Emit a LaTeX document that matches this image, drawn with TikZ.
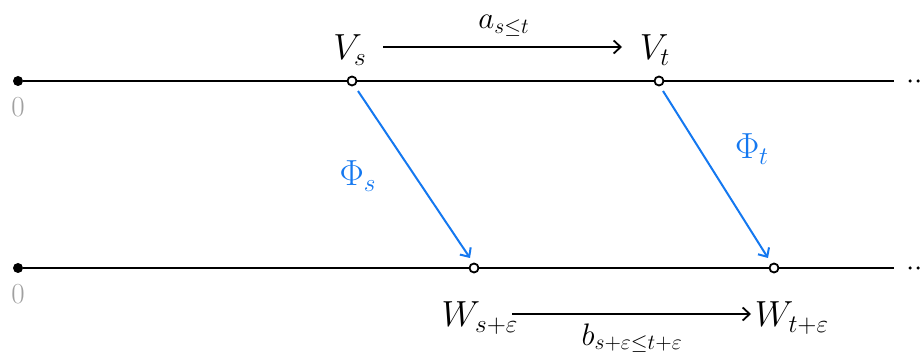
\documentclass[tikz,border=0pt]{standalone}
\usetikzlibrary{arrows.meta}
\definecolor{phiblue}{RGB}{20,120,240}
\definecolor{zerogray}{RGB}{160,160,160}
\tikzset{
  axis/.style={line width=2.2pt,black},
  opendot/.style={circle,draw=black,fill=white,line width=1.8pt,inner sep=0pt,minimum size=9pt},
  startdot/.style={circle,fill=black,inner sep=0pt,minimum size=10pt},
  tinydot/.style={circle,fill=black,inner sep=0pt,minimum size=3.5pt},
  lbl/.style={font=\huge,inner sep=0pt,scale=1.75,transform shape},
  smalllbl/.style={font=\huge,inner sep=0pt,scale=1.5,transform shape},
  zerolbl/.style={font=\huge,text=zerogray,inner sep=0pt,scale=1.4,transform shape},
  maparrow/.style={line width=1.8pt,-{Straight Barb[length=7pt,width=13pt]}},
  bluearrow/.style={line width=2pt,phiblue,-{Straight Barb[length=7pt,width=13pt]}}
}
\begin{document}
\begin{tikzpicture}[x=1pt,y=1pt]
\useasboundingbox (0,0) rectangle (920,356);
% axes
\node[startdot] (t0) at (18,275) {};
\node[startdot] (b0) at (18,88) {};
\coordinate (tend) at (894,275);
\coordinate (bend) at (894,88);
\draw[axis] (t0) -- (tend);
\draw[axis] (b0) -- (bend);
\node[tinydot] (td1) at (910,275) {};
\node[tinydot] (td2) at (918,275) {};
\node[tinydot] (bd1) at (910,88) {};
\node[tinydot] (bd2) at (918,88) {};
\node[zerolbl] (z1) at (18,249) {0};
\node[zerolbl] (z2) at (18,62) {0};
% open points
\node[opendot] (ps) at (352,275) {};
\node[opendot] (pt) at (659,275) {};
\node[opendot] (qs) at (474,88) {};
\node[opendot] (qt) at (774,88) {};
% labels
\node[lbl] (Vs) at (350,306) {$V_s$};
\node[lbl] (Vt) at (655,306) {$V_t$};
\coordinate (va) at (383,309);
\coordinate (vb) at (622,309);
\draw[maparrow] (va) -- (vb);
\node[smalllbl] (a) at (504,330) {$a_{s\le t}$};
\node[lbl] (Ws) at (480,38) {$W_{s+\varepsilon}$};
\node[lbl] (Wt) at (792,38) {$W_{t+\varepsilon}$};
\coordinate (wa) at (512,42);
\coordinate (wb) at (751,42);
\draw[maparrow] (wa) -- (wb);
\node[smalllbl,anchor=south] (b) at (632,3) {$b_{s+\varepsilon\le t+\varepsilon}$};
% maps
\draw[bluearrow] (ps) ++(6,-10) -- ([shift={(-4,10)}]qs.center);
\draw[bluearrow] (pt) ++(4,-10) -- ([shift={(-6,10)}]qt.center);
\node[lbl,text=phiblue] (phs) at (358,180) {$\Phi_s$};
\node[lbl,text=phiblue] (pht) at (752,207) {$\Phi_t$};
\end{tikzpicture}
\end{document}
